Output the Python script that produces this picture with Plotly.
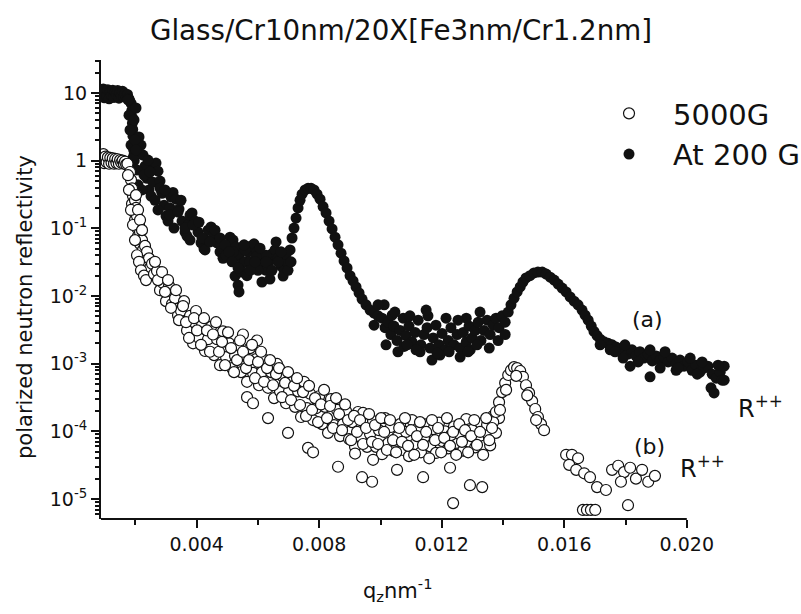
import plotly.graph_objects as go

# ---------------- data (q in units of 1e-3 nm^-1, R = polarized neutron reflectivity) -------------
# (a) "At 200 G" – filled circles
qa_milli = [
    0.95, 0.98, 1.02, 1.06, 1.10, 1.14, 1.18, 1.22, 1.26, 1.30, 1.34, 1.38, 1.42, 1.46, 1.50, 1.54,
    1.58, 1.62, 1.66, 1.70, 1.74, 1.78, 1.81,
    1.86, 1.88, 1.89, 1.90, 1.91, 1.92, 1.93, 1.94, 1.95, 1.96,
    2.116, 2.181, 2.247, 2.312, 2.377, 2.442, 2.508, 2.573, 2.606,
    2.671, 2.736, 2.802, 2.867, 2.933, 2.998, 3.063, 3.128, 3.161,
    3.226, 3.324, 3.422, 3.520, 3.618, 3.683, 3.749, 3.781,
    3.847, 3.945, 4.042, 4.140, 4.238, 4.304, 4.369,
    4.467, 4.565, 4.663, 4.761, 4.859, 4.957, 5.022, 5.087,
    5.185, 5.283, 5.381, 5.479, 5.577, 5.675, 5.773,
    5.871, 5.969, 6.067, 6.165, 6.263, 6.361, 6.459,
    6.557, 6.655, 6.753, 6.851, 6.949, 7.047,
    5.25, 5.35, 5.38, 6.13, 6.82, 5.45, 5.64, 6.00, 6.39, 5.74, 6.26, 6.66, 6.92, 5.19, 5.58, 5.94,
    7.112, 7.177, 7.243, 7.308, 7.373, 7.439, 7.537, 7.635, 7.733, 7.831, 7.929, 8.027, 8.125, 8.223,
    8.321, 8.419, 8.516, 8.614, 8.712, 8.810, 8.908, 9.006, 9.104, 9.202, 9.300, 9.398, 9.528, 9.659,
    9.790, 9.920,
    10.05, 10.15, 10.25, 10.34, 10.44, 10.54, 10.64, 10.74, 10.83, 10.93, 11.03, 11.13, 11.23, 11.32,
    11.42, 11.52, 11.62, 11.72, 11.81, 11.91, 12.01, 12.11, 12.21, 12.30, 12.40, 12.50, 12.60, 12.70,
    12.80, 12.89, 12.99, 13.09, 13.19, 13.28, 13.38, 13.48, 13.58, 13.68, 13.77, 13.87, 13.97, 14.07,
    14.17,
    11.68, 10.18, 10.57, 12.60, 11.29, 10.38, 10.96, 11.55, 12.14, 12.80, 13.25, 10.77, 11.94, 12.93,
    14.26, 14.36, 14.46, 14.56, 14.65, 14.75, 14.88, 15.01, 15.14, 15.28, 15.41, 15.54, 15.67, 15.80,
    15.93, 16.06, 16.19, 16.32, 16.45, 16.58, 16.68, 16.78, 16.88, 16.97, 17.07, 17.17, 17.30, 17.43,
    17.56, 17.69, 17.82, 17.95, 18.08, 18.21, 18.34, 18.47, 18.60, 18.74, 18.87, 19.00, 19.13, 19.26,
    19.39, 19.52, 19.65, 19.78, 19.91, 20.04, 20.17, 20.30, 20.43, 20.56, 20.69, 20.83, 20.96, 21.09,
    21.22,
    17.92, 18.15, 18.80, 20.34, 20.79, 20.89, 21.15, 17.50, 19.13, 19.65,
]
ra = [
    11.5, 8.5, 10.8, 9.0, 11.2, 8.2, 10.5, 9.2, 11.0, 8.6, 10.3, 9.4, 10.9, 8.4, 10.1, 9.1,
    10.6, 8.8, 9.8, 8.7, 9.5, 8.3, 7.8,
    7.0, 5.5, 4.4, 3.6, 2.9, 2.3, 1.8, 1.45, 1.2, 1.0,
    2.24, 1.70, 1.21, 0.83, 0.55, 0.37, 0.30, 0.48, 0.78,
    0.92, 0.70, 0.50, 0.33, 0.22, 0.152, 0.128, 0.20, 0.29,
    0.34, 0.27, 0.193, 0.128, 0.088, 0.077, 0.116, 0.157,
    0.169, 0.128, 0.088, 0.061, 0.050, 0.067, 0.094,
    0.105, 0.082, 0.061, 0.045, 0.036, 0.040, 0.057, 0.074,
    0.067, 0.053, 0.039, 0.030, 0.032, 0.045, 0.055,
    0.059, 0.045, 0.033, 0.026, 0.024, 0.032, 0.042,
    0.048, 0.036, 0.028, 0.024, 0.032, 0.048,
    0.0197, 0.0145, 0.0115, 0.0161, 0.0197, 0.0226, 0.020, 0.024, 0.0178, 0.032, 0.040, 0.032, 0.042,
    0.045, 0.048, 0.038,
    0.072, 0.101, 0.142, 0.20, 0.26, 0.32, 0.37, 0.39, 0.39, 0.37, 0.32, 0.27, 0.21, 0.169,
    0.128, 0.098, 0.074, 0.057, 0.043, 0.033, 0.026, 0.020, 0.0167, 0.0136, 0.0111, 0.0090, 0.0074,
    0.0062, 0.0056, 0.0051,
    0.0047, 0.0034, 0.0041, 0.0027, 0.0036, 0.0022, 0.0031, 0.0047, 0.0026, 0.0036, 0.0021, 0.0029,
    0.0044, 0.0019, 0.0027, 0.0034, 0.0017, 0.0024, 0.0037, 0.0019, 0.0028, 0.0016, 0.0022, 0.0034,
    0.0019, 0.0027, 0.0017, 0.0029, 0.0021, 0.0036, 0.0024, 0.0031, 0.0041, 0.0022, 0.0031, 0.0044,
    0.0027, 0.0037, 0.0047, 0.0034, 0.0051, 0.0041, 0.0058,
    0.00113, 0.0019, 0.0015, 0.00125, 0.0015, 0.0052, 0.0051, 0.0051, 0.0047, 0.0047, 0.0058, 0.0018,
    0.00134, 0.0016,
    0.0074, 0.0093, 0.0115, 0.0136, 0.0161, 0.0185, 0.020, 0.0219, 0.0226, 0.0226, 0.0211, 0.019,
    0.0172, 0.0150, 0.0131, 0.0115, 0.0097, 0.0084, 0.0074, 0.0062, 0.0052, 0.0044, 0.0036, 0.0030,
    0.0026, 0.0023, 0.0021, 0.0020, 0.0019, 0.00176, 0.00165, 0.0015, 0.00139, 0.0016, 0.0013, 0.0015,
    0.00121, 0.00139, 0.0011, 0.0013, 0.00113, 0.00125, 0.00106, 0.00121, 0.00099, 0.00113, 0.00092,
    0.00106, 0.0008, 0.00095, 0.00075, 0.00086, 0.00092, 0.0007, 0.00061, 0.00075, 0.00092,
    0.00121, 0.00092, 0.00064, 0.0007, 0.00044, 0.00037, 0.00057, 0.0016, 0.00086, 0.0008,
]
qa_extra_milli = [
    1.757, 1.789, 1.822, 1.855, 1.920, 1.953, 1.985, 2.018,
    2.018, 2.051, 2.084, 2.214, 2.279, 2.410, 2.475, 2.638, 2.736, 2.802, 2.965, 3.128, 3.259, 3.390,
    3.488, 3.618, 3.781, 3.880, 4.075, 4.173, 4.271, 4.434, 4.598, 4.761, 4.924, 5.055, 5.153, 5.349,
    5.545, 5.740, 5.904, 6.067, 6.263, 6.459, 6.590, 6.753, 6.981, 7.079,
    10.12, 10.47, 10.87, 11.16, 11.49, 11.85, 12.24, 12.53, 12.86, 13.15, 13.55, 13.84, 14.07, 9.79, 9.92,
    17.17, 17.66, 17.98, 18.41, 18.80, 19.29, 19.72, 20.11, 20.50, 21.02, 21.22,
]
ra_extra = [
    7.9, 4.7, 2.84, 1.70, 1.09, 4.0, 2.02, 6.0,
    1.44, 0.73, 0.44, 0.37, 0.61, 1.02, 0.68, 0.26, 0.187, 0.39, 0.37, 0.157, 0.101, 0.174,
    0.26, 0.101, 0.067, 0.112, 0.123, 0.072, 0.048, 0.063, 0.094, 0.072, 0.057, 0.045, 0.032, 0.026,
    0.057, 0.024, 0.032, 0.051, 0.032, 0.024, 0.063, 0.045, 0.024, 0.032,
    0.0074, 0.0058, 0.0019, 0.0016, 0.0062, 0.00143, 0.0015, 0.0044, 0.0015, 0.0019, 0.0017, 0.0022,
    0.0027, 0.0037, 0.0074,
    0.0019, 0.0015, 0.0019, 0.00106, 0.0016, 0.0015, 0.00086, 0.00121, 0.00106, 0.00095, 0.00057,
]

# (b) "5000G" – open circles
qb_milli = [
    0.95, 0.98, 1.02, 1.06, 1.10, 1.14, 1.18, 1.22, 1.26, 1.30, 1.34, 1.38, 1.42, 1.46, 1.50, 1.54,
    1.58, 1.62, 1.66, 1.70, 1.74,
    1.822, 1.855, 1.888, 1.920, 1.888, 1.985, 1.953, 2.018, 1.985, 2.051, 2.051, 2.116, 2.084, 2.149,
    2.149, 2.214, 2.247, 2.312, 2.312, 2.377, 2.377, 2.442, 2.475, 2.541,
    1.757, 1.789, 1.855, 1.920, 1.985, 2.051, 2.116, 2.181, 2.279, 2.345, 2.018, 2.084, 2.149, 2.214,
    2.606, 2.704, 2.802, 2.900, 2.998, 3.096, 3.194, 3.292, 3.390, 3.488, 3.586, 3.684, 3.782, 3.880,
    3.977, 4.075, 4.173, 4.271, 4.369, 4.467, 4.565, 4.663, 4.761, 4.859, 4.957, 5.055, 5.153, 5.251,
    5.349, 5.447, 5.545, 5.643, 5.740, 5.838, 5.936, 6.034, 6.132, 6.230, 6.328, 6.426, 6.524, 6.622,
    6.720, 6.818, 6.916, 7.014, 7.112, 7.210, 7.308, 7.406, 7.504, 7.602, 7.700, 7.798, 7.896, 7.994,
    8.091, 8.189, 8.287, 8.385, 8.483, 8.581, 8.679, 8.777, 8.875, 8.973, 9.071, 9.169, 9.267, 9.365,
    9.463, 9.561, 9.659, 9.757, 9.855, 9.953, 10.05, 10.15, 10.25, 10.34, 10.44, 10.54, 10.64, 10.74,
    10.83, 10.93, 11.03, 11.13, 11.23, 11.32, 11.42, 11.52, 11.62, 11.72, 11.81, 11.91, 12.01, 12.11,
    12.21, 12.30, 12.40, 12.50, 12.60, 12.70, 12.80, 12.89, 12.99, 13.09, 13.19, 13.28, 13.38, 13.48,
    13.58, 13.68, 13.77, 13.87,
    5.643, 5.838, 6.328, 6.981, 7.634, 7.798, 8.614, 9.169, 9.398, 9.725, 11.39, 12.37, 12.92, 13.32,
    9.757, 10.54, 12.27, 5.51, 5.97, 9.43,
    13.68, 13.77, 13.87, 13.97, 14.07, 14.17, 14.26, 14.36, 14.46, 14.56, 14.65, 14.75, 14.85, 14.95,
    15.05, 15.14, 15.24, 15.34, 13.90, 14.10, 14.43, 14.79, 15.08,
    16.06, 16.25, 16.45, 16.16, 16.39, 16.65, 16.84, 17.07, 16.61, 16.74, 16.87, 17.01, 17.36, 17.56,
    17.76, 17.95, 18.15, 17.85, 18.08, 18.34, 18.54, 18.74, 18.96,
]
rb = [
    1.25, 0.92, 1.15, 0.95, 1.12, 0.90, 1.10, 0.93, 1.08, 0.90, 1.06, 0.92, 1.05, 0.90, 1.02, 0.93,
    1.00, 0.90, 0.97, 0.88, 0.90,
    0.68, 0.52, 0.39, 0.30, 0.23, 0.26, 0.175, 0.20, 0.133, 0.152, 0.101, 0.116, 0.077, 0.088,
    0.059, 0.067, 0.048, 0.055, 0.039, 0.045, 0.032, 0.036, 0.026, 0.030,
    0.61, 0.37, 0.187, 0.112, 0.067, 0.040, 0.032, 0.024, 0.020, 0.0172, 0.31, 0.187, 0.133, 0.094,
    0.0211, 0.0234, 0.0122, 0.0156, 0.0084, 0.0141, 0.0076, 0.0093, 0.0052, 0.0060, 0.0084, 0.0031,
    0.0051, 0.0020, 0.0060, 0.0024, 0.0037, 0.00154, 0.0023, 0.0035, 0.00134, 0.0023, 0.00095, 0.0030,
    0.00125, 0.0020, 0.00086, 0.0013, 0.0019, 0.00075, 0.0013, 0.00054, 0.0017, 0.00073, 0.00117,
    0.00048, 0.00075, 0.00113, 0.00044, 0.00075, 0.00031, 0.00099, 0.00039, 0.00064, 0.00026, 0.00039,
    0.00059, 0.00023, 0.00039, 0.000163, 0.00054, 0.00022, 0.00036, 0.000147, 0.00022, 0.00033,
    0.000128, 0.00023, 9.5e-5, 0.00030, 0.000124, 0.000207, 8.5e-5, 0.000128, 0.00020, 7.7e-5,
    0.000137, 5.9e-5, 0.000193, 8.2e-5, 0.000137, 5.9e-5, 9.1e-5, 0.000142, 5.9e-5, 0.000104, 4.6e-5,
    0.000157, 6.7e-5, 0.000116, 5.1e-5, 8.2e-5, 0.000128, 5.3e-5, 9.8e-5, 4.3e-5, 0.000147, 6.5e-5,
    0.000112, 4.9e-5, 8.0e-5, 0.000128, 6.0e-5, 0.000108, 4.8e-5, 0.000135, 7.2e-5, 0.000100, 5.6e-5,
    8.8e-5, 0.000118, 4.7e-5, 9.0e-5, 5.2e-5, 0.000152, 7.0e-5, 0.000105, 5.8e-5, 7.8e-5, 0.000130,
    6.1e-5, 0.000125, 6.2e-5, 0.00017, 9.5e-5, 0.000157,
    3.2e-4, 2.6e-4, 1.57e-4, 9.5e-5, 5.7e-5, 4.9e-5, 3.0e-5, 4.7e-5, 2.1e-5, 1.8e-5, 2.1e-5, 8.7e-6,
    1.6e-5, 1.5e-5, 3.8e-5, 2.7e-5, 2.9e-5, 0.0027, 0.0022, 1.87e-4,
    1.37e-4, 1.93e-4, 2.7e-4, 3.8e-4, 5.2e-4, 6.8e-4, 8.0e-4, 8.9e-4, 8.6e-4, 7.8e-4, 6.4e-4, 4.8e-4,
    3.7e-4, 2.8e-4, 2.14e-4, 1.63e-4, 1.28e-4, 1.04e-4, 2.07e-4, 4.1e-4, 6.6e-4, 3.4e-4, 1.47e-4,
    4.5e-5, 4.5e-5, 4.0e-5, 3.2e-5, 2.7e-5, 2.4e-5, 2.1e-5, 1.5e-5, 6.9e-6, 6.9e-6, 6.9e-6, 6.9e-6,
    1.36e-5, 2.7e-5, 3.1e-5, 2.5e-5, 2.9e-5, 1.8e-5, 8.1e-6, 2.0e-5, 2.7e-5, 1.8e-5, 2.2e-5,
]
# (b) additional points read from the dense cloud between 0.0026 and 0.0137
qb_band_milli = [
    2.638, 2.736, 2.867, 2.965, 3.063, 3.161, 3.324, 3.422, 3.553, 3.651, 3.749, 3.912, 4.010, 4.140,
    4.238, 4.336, 4.434, 4.532, 4.630, 4.728, 4.826, 4.924, 5.022, 5.120, 5.218, 5.316, 5.414, 5.512,
    5.610, 5.708, 5.806, 5.904, 6.002, 6.100, 6.198, 6.296, 6.394, 6.492, 6.590, 6.688, 6.786, 6.884,
    6.981, 7.079, 7.177, 7.275, 7.373, 7.471, 7.569, 7.667, 7.765, 7.863, 7.961, 8.059, 8.157, 8.255,
    8.353, 8.451, 8.549, 8.647, 8.745, 8.843, 8.940, 9.038, 9.136, 9.234, 9.332, 9.430, 9.528, 9.626,
    9.724, 9.822, 9.920, 10.02, 10.12, 10.21, 10.31, 10.41, 10.51, 10.61, 10.70, 10.80, 10.90, 11.00,
    11.10, 11.19, 11.29, 11.39, 11.49, 11.59, 11.68, 11.78, 11.88, 11.98, 12.08, 12.17, 12.27, 12.37,
    12.47, 12.57, 12.66, 12.76, 12.86, 12.96, 13.06, 13.15, 13.25, 13.35, 13.45, 13.55, 13.64,
]
rb_band = [
    0.032, 0.0172, 0.0226, 0.0115, 0.0172, 0.0067, 0.0122, 0.0044, 0.0071, 0.0041, 0.0024, 0.0047,
    0.0031, 0.0019, 0.0047, 0.0031, 0.0015, 0.0027, 0.0041, 0.0015, 0.0021, 0.00095, 0.0029, 0.0017,
    0.00075, 0.00113, 0.0022, 0.0015, 0.00086, 0.00113, 0.0019, 0.00061, 0.00106, 0.0015, 0.00054,
    0.00086, 0.00113, 0.00048, 0.0007, 0.00086, 0.00032, 0.00052, 0.00075, 0.00029, 0.00047, 0.00061,
    0.000245, 0.00038, 0.000169, 0.00047, 0.000207, 0.00031, 0.000137, 0.00025, 0.00041, 0.000157,
    0.000237, 0.000112, 0.00031, 0.00018, 0.000104, 0.00025, 0.000147, 7.4e-5, 0.000169, 9.8e-5,
    0.000147, 6.5e-5, 0.000112, 0.00018, 7.0e-5, 0.000124, 6.5e-5, 0.000157, 9.8e-5, 5.3e-5, 0.000147,
    7.4e-5, 4.9e-5, 0.000112, 7.0e-5, 0.000157, 6.1e-5, 0.000104, 4.5e-5, 8.5e-5, 0.000137, 6.3e-5,
    9.8e-5, 4.0e-5, 0.000147, 7.4e-5, 0.000112, 4.9e-5, 8.0e-5, 0.000157, 6.1e-5, 9.8e-5, 4.5e-5,
    0.000128, 7.0e-5, 0.000104, 4.9e-5, 8.5e-5, 0.000147, 6.3e-5, 9.8e-5, 4.5e-5, 0.000157, 7.4e-5,
    0.000112,
]

# axis ticks
x_tick_vals = [0.004, 0.008, 0.012, 0.016, 0.020]
x_tick_text = ["0.004", "0.008", "0.012", "0.016", "0.020"]
x_minor_vals = [0.002, 0.006, 0.010, 0.014, 0.018]
y_tick_vals = [1e-5, 1e-4, 1e-3, 1e-2, 1e-1, 1, 10]
y_tick_text = ["10<sup>-5</sup>", "10<sup>-4</sup>", "10<sup>-3</sup>", "10<sup>-2</sup>",
               "10<sup>-1</sup>", "1", "10"]
y_minor_vals = [m * 10.0 ** e for e in range(-6, 2) for m in range(2, 10)
                if 5e-6 <= m * 10.0 ** e <= 30]

title_text = "Glass/Cr10nm/20X[Fe3nm/Cr1.2nm]"
x_title = "q<sub>z</sub>nm<sup>-1</sup>"
y_title = "polarized neutron reflectivity"
legend_names = ["At 200 G", "5000G"]

# ---------------- figure ----------------
INK = "#111111"
FONT = "DejaVu Sans"
MS = 11

fig = go.Figure()
fig.add_trace(go.Scatter(
    x=[v * 1e-3 for v in qa_milli + qa_extra_milli], y=ra + ra_extra, mode="markers",
    name=legend_names[0], legendgroup="a",
    marker=dict(symbol="circle", size=MS, color=INK, line=dict(width=0)),
))
fig.add_trace(go.Scatter(
    x=[v * 1e-3 for v in qb_milli + qb_band_milli], y=rb + rb_band, mode="markers",
    name=legend_names[1], legendgroup="b",
    marker=dict(symbol="circle", size=MS, color="white", line=dict(color=INK, width=1.2)),
))

X0, X1 = 0.000875, 0.02141
fig.update_layout(
    width=801, height=614,
    margin=dict(l=101, r=71, t=60, b=95, autoexpand=False),
    paper_bgcolor="white", plot_bgcolor="white",
    font=dict(family=FONT, color=INK),
    title=dict(text=title_text, x=0.5006, xanchor="center", y=0.951, yanchor="middle",
               font=dict(size=27.7, family=FONT, color=INK)),
    showlegend=True,
    legend=dict(x=0.7695, y=0.939, xanchor="left", yanchor="top", traceorder="reversed",
                font=dict(size=29, family=FONT, color=INK), bgcolor="rgba(0,0,0,0)",
                borderwidth=0, itemwidth=78, tracegroupgap=12),
)
fig.update_xaxes(
    range=[X0, X1], showgrid=False, zeroline=False, showline=False,
    ticks="outside", ticklen=8, tickwidth=2, tickcolor=INK,
    tickmode="array", tickvals=x_tick_vals, ticktext=x_tick_text,
    tickfont=dict(size=19, family=FONT, color=INK),
    minor=dict(tickmode="array", tickvals=x_minor_vals, ticks="outside", ticklen=5,
               tickwidth=2, tickcolor=INK, showgrid=False),
)
fig.update_yaxes(
    type="log", range=[-5.2953, 1.4877], showgrid=False, zeroline=False,
    showline=True, linewidth=2, linecolor=INK,
    ticks="outside", ticklen=8, tickwidth=2, tickcolor=INK,
    tickmode="array", tickvals=y_tick_vals, ticktext=y_tick_text,
    tickfont=dict(size=19, family=FONT, color=INK),
    minor=dict(tickmode="array", tickvals=y_minor_vals, ticks="outside", ticklen=4,
               tickwidth=1.5, tickcolor=INK, showgrid=False),
)
# x-axis line ends at q = 0.020 as in the original
fig.add_shape(type="line", xref="x", yref="paper", x0=X0, x1=0.020, y0=0, y1=0,
              line=dict(color=INK, width=2))

ann = [
    dict(text=y_title, x=-0.1208, y=0.4619, textangle=-90, size=21),
    dict(text=x_title, x=0.4722, y=-0.1547, textangle=0, size=21),
    dict(text="(a)", x=0.8696, y=0.4336, textangle=0, size=22),
    dict(text="R<sup>++</sup>", x=1.049, y=0.244, textangle=0, size=24),
    dict(text="(b)", x=0.8728, y=0.159, textangle=0, size=22),
    dict(text="R<sup>++</sup>", x=0.957, y=0.113, textangle=0, size=24),
]
for a in ann:
    fig.add_annotation(text=a["text"], xref="paper", yref="paper", x=a["x"], y=a["y"],
                       xanchor="center", yanchor="middle", showarrow=False,
                       textangle=a["textangle"], font=dict(size=a["size"], family=FONT, color=INK))

fig.write_html("out.html")
